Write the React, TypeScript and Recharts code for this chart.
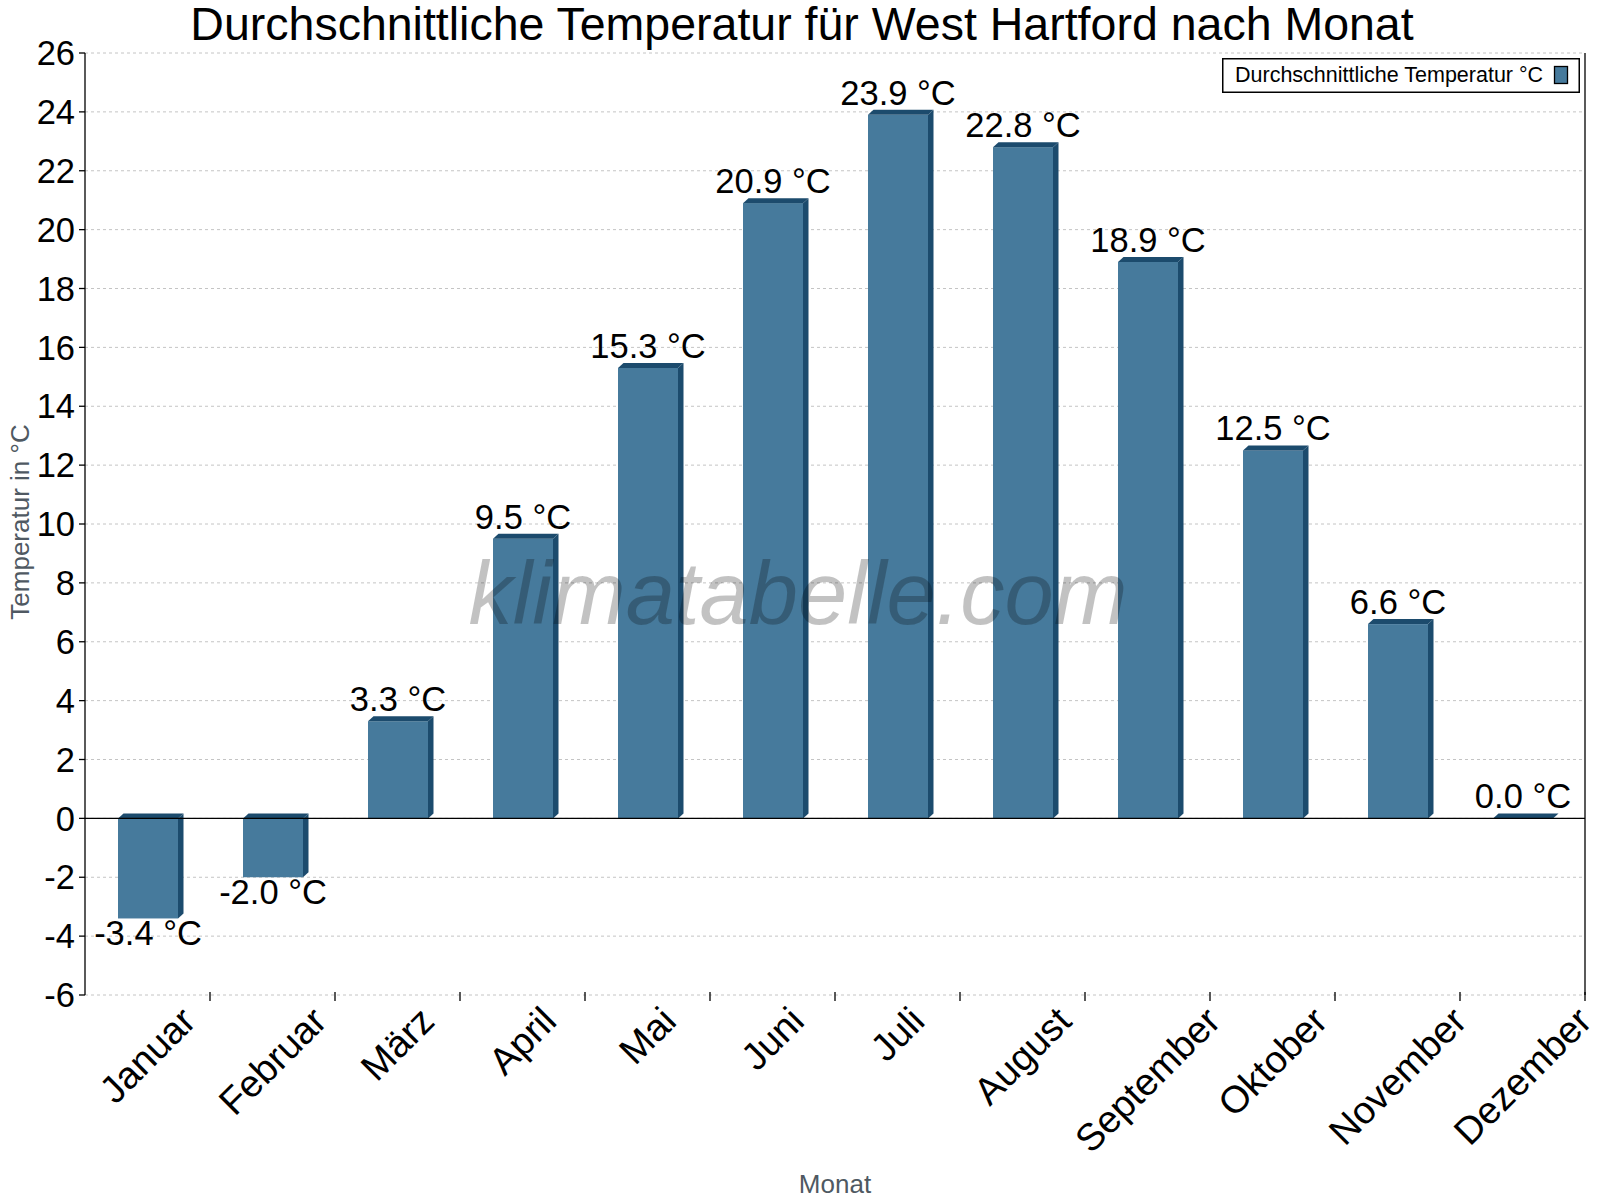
import React from 'react';
import { BarChart, Bar, XAxis, YAxis, CartesianGrid, ReferenceLine, Legend, LabelList } from 'recharts';

const months = ['Januar', 'Februar', 'März', 'April', 'Mai', 'Juni', 'Juli', 'August', 'September', 'Oktober', 'November', 'Dezember'];
const temperatures = [-3.4, -2.0, 3.3, 9.5, 15.3, 20.9, 23.9, 22.8, 18.9, 12.5, 6.6, 0.0];
const yTicks = [-6, -4, -2, 0, 2, 4, 6, 8, 10, 12, 14, 16, 18, 20, 22, 24, 26];
const seriesName = 'Durchschnittliche Temperatur °C';
const chartTitle = 'Durchschnittliche Temperatur für West Hartford nach Monat';
const xTitle = 'Monat';
const yTitle = 'Temperatur in °C';
const watermark = 'klimatabelle.com';

const data = months.map((m, i) => ({ month: m, temp: temperatures[i] }));

const W = 1600;
const H = 1200;
const PLOT_LEFT = 85;
const PLOT_RIGHT = 1585;
const PLOT_TOP = 53;
const PLOT_BOTTOM = 995;
const BAND = (PLOT_RIGHT - PLOT_LEFT) / months.length;
const FONT = '"Liberation Sans", Arial, Helvetica, sans-serif';
const FRONT = '#467a9c';
const DARK = '#1c4b6d';
const DX = 5.5;
const DY = 5;
const XLABEL_SIZE = 38;
const AXIS_TITLE_COLOR = '#4f5962';

let measureCtx: CanvasRenderingContext2D | null = null;
function measure(text: string, size: number): number {
  if (!measureCtx) {
    const c = document.createElement('canvas');
    measureCtx = c.getContext('2d');
  }
  if (!measureCtx) return text.length * size * 0.55;
  measureCtx.font = `${size}px "Liberation Sans"`;
  return measureCtx.measureText(text).width;
}

const Bar3D = (props: any) => {
  const { x, y, width, height } = props;
  if (x == null || y == null) return null;
  const h = height || 0;
  const top = Math.min(y, y + h);
  const bottom = Math.max(y, y + h);
  const r = x + width;
  return (
    <g>
      <rect x={x} y={top} width={width} height={bottom - top} fill={FRONT} />
      <polygon points={`${x},${top} ${x + DX},${top - DY} ${r + DX},${top - DY} ${r},${top}`} fill={DARK} />
      <polygon points={`${r},${top} ${r + DX},${top - DY} ${r + DX},${bottom - DY} ${r},${bottom}`} fill={DARK} />
    </g>
  );
};

const ValueLabel = (props: any) => {
  const { x, y, width, height, value } = props;
  const h = height || 0;
  const top = Math.min(y, y + h);
  const bottom = Math.max(y, y + h);
  const cx = x + width / 2;
  const v = Number(value);
  const ty = v < 0 ? bottom + 27 : top - 10;
  return (
    <text x={cx} y={ty} textAnchor="middle" fontSize={34.5} fontFamily={FONT} fill="#000">
      {`${v.toFixed(1)} °C`}
    </text>
  );
};

const MonthTick = (props: any) => {
  const { x, payload } = props;
  const label = String(payload.value);
  const L = measure(label, XLABEL_SIZE);
  const cy = PLOT_BOTTOM + 19 + 0.354 * L;
  const bx = x + BAND / 2;
  return (
    <g>
      <line x1={bx} x2={bx} y1={PLOT_BOTTOM - 3} y2={PLOT_BOTTOM + 6} stroke="#000" strokeWidth={1.3} />
      <text
        x={x}
        y={cy}
        textAnchor="middle"
        dominantBaseline="central"
        transform={`rotate(-45 ${x} ${cy})`}
        fontSize={XLABEL_SIZE}
        fontFamily={FONT}
        fill="#000"
      >
        {label}
      </text>
    </g>
  );
};

const LegendBox = () => (
  <svg width={358} height={35} style={{ display: 'block' }}>
    <rect x={0.75} y={0.75} width={356.5} height={33.5} fill="#fff" stroke="#000" strokeWidth={1.5} />
    <text x={13} y={24} fontSize={21.5} fontFamily={FONT} fill="#000">{seriesName}</text>
    <rect x={332.5} y={8.5} width={13} height={17} fill={FRONT} stroke="#000" strokeWidth={1.3} />
  </svg>
);

export default function App() {
  return (
    <div style={{ position: 'absolute', left: 0, top: 0, width: W, height: H, background: '#fff' }}>
      <BarChart width={W} height={H} data={data} margin={{ top: PLOT_TOP, right: 0, bottom: 0, left: 0 }} barSize={60}>
        <CartesianGrid horizontal vertical={false} stroke="#c4c4c4" strokeDasharray="3 3" />
        <XAxis
          dataKey="month"
          height={H - PLOT_BOTTOM}
          axisLine={false}
          tickLine={false}
          interval={0}
          tick={<MonthTick />}
        />
        <YAxis
          type="number"
          domain={[-6, 26]}
          ticks={yTicks}
          interval={0}
          width={PLOT_LEFT}
          tickSize={6}
          tickMargin={4}
          axisLine={{ stroke: '#000', strokeWidth: 1.3 }}
          tickLine={{ stroke: '#000', strokeWidth: 1.3 }}
          tick={{ fontSize: 34.5, fill: '#000', fontFamily: FONT }}
          allowDataOverflow
        />
        <YAxis
          yAxisId="r"
          orientation="right"
          type="number"
          domain={[-6, 26]}
          width={W - PLOT_RIGHT}
          tick={false}
          tickLine={false}
          axisLine={{ stroke: '#000', strokeWidth: 1.3 }}
        />
        <ReferenceLine y={0} stroke="#000" strokeWidth={1.3} ifOverflow="extendDomain" />
        <Legend
          layout="horizontal"
          verticalAlign="middle"
          align="center"
          content={() => <LegendBox />}
          wrapperStyle={{ position: 'absolute', left: 1222, top: 58, width: 358, height: 35 }}
        />
        <Bar dataKey="temp" name={seriesName} shape={<Bar3D />} isAnimationActive={false}>
          <LabelList dataKey="temp" content={<ValueLabel />} />
        </Bar>
      </BarChart>
      <svg width={W} height={H} style={{ position: 'absolute', left: 0, top: 0, pointerEvents: 'none' }}>
        <text x={802} y={40} textAnchor="middle" fontSize={46.5} fontFamily={FONT} fill="#000">{chartTitle}</text>
        <text x={798} y={624} textAnchor="middle" fontSize={88.5} fontStyle="italic" fontFamily={FONT} fill="#000" fillOpacity={0.24}>{watermark}</text>
        <text x={29} y={522} textAnchor="middle" transform="rotate(-90 29 522)" fontSize={26} fontFamily={FONT} fill={AXIS_TITLE_COLOR}>{yTitle}</text>
        <text x={835} y={1193} textAnchor="middle" fontSize={26} fontFamily={FONT} fill={AXIS_TITLE_COLOR}>{xTitle}</text>
      </svg>
    </div>
  );
}
